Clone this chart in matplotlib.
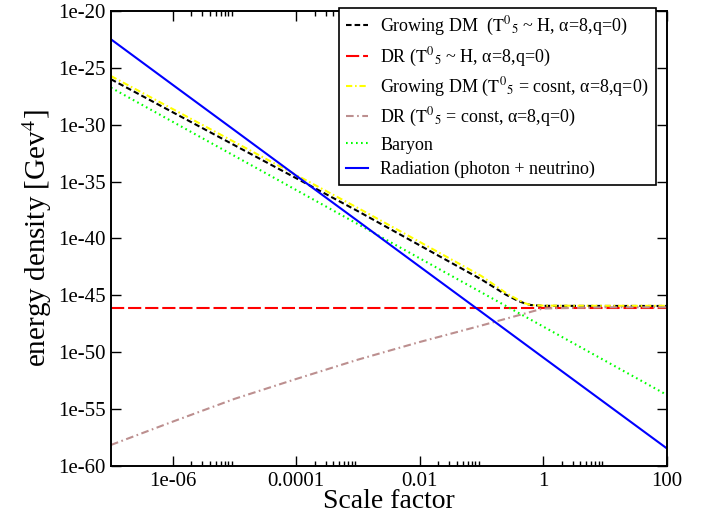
#!/usr/bin/env python
# -*- coding: utf-8 -*-
import numpy as np
import matplotlib
matplotlib.use('Agg')
import matplotlib.pyplot as plt
from matplotlib.ticker import FixedLocator, FixedFormatter, NullFormatter

## log10 of the scale factor where the curves were read
a_exp = [-7, -6, -5, -4, -3, -2, -1, -0.6, -0.4, -0.3, -0.2, 0, 1, 2]

## log10 of the energy density [GeV^4]
dm_H = [-26.0, -28.9, -31.8, -34.7, -37.6, -40.6, -43.6, -44.95, -45.5, -45.7, -45.85, -45.92, -45.93, -45.93]
dr_H = [-46.1, -46.1, -46.1, -46.1, -46.1, -46.1, -46.1, -46.1, -46.1, -46.1, -46.1, -46.1, -46.1, -46.1]
dm_const = [-25.72, -28.62, -31.52, -34.42, -37.32, -40.3, -43.3, -44.8, -45.4, -45.68, -45.85, -45.9, -45.92, -45.92]
dr_const = [-58.15, -56.1, -54.1, -52.35, -50.65, -49.1, -47.65, -47.05, -46.75, -46.6, -46.45, -46.15, -46.05, -46.05]
baryon = [-26.74, -29.74, -32.74, -35.74, -38.74, -41.74, -44.74, -45.94, -46.54, -46.84, -47.14, -47.74, -50.74, -53.74]
radiation = [-22.49, -26.49, -30.48, -34.48, -38.47, -42.47, -46.46, -48.06, -48.86, -49.26, -49.66, -50.46, -54.45, -58.44]

labels = ['Growing DM  ($\\mathrm{T}^{0}{}_{5}$ ~ H, \u03b1=8,q=0)',
          'DR ($\\mathrm{T}^{0}{}_{5}$ ~ H, \u03b1=8,q=0)',
          'Growing DM ($\\mathrm{T}^{0}{}_{5}$ = cosnt, \u03b1=8,q=0)',
          'DR ($\\mathrm{T}^{0}{}_{5}$ = const, \u03b1=8,q=0)',
          'Baryon',
          'Radiation (photon + neutrino)']

x_ticks = [1e-6, 1e-4, 1e-2, 1, 100]
x_ticklabels = ['1e-06', '0.0001', '0.01', '1', '100']
y_ticks = [1e-60, 1e-55, 1e-50, 1e-45, 1e-40, 1e-35, 1e-30, 1e-25, 1e-20]
y_ticklabels = ['1e-60', '1e-55', '1e-50', '1e-45', '1e-40', '1e-35', '1e-30', '1e-25', '1e-20']


def main():
    plt.rcParams['font.family'] = ['Liberation Serif', 'DejaVu Serif']
    plt.rcParams['mathtext.fontset'] = 'stix'
    plt.rcParams['lines.scale_dashes'] = False

    a = 10.0 ** np.array(a_exp)
    series = [dm_H, dr_H, dm_const, dr_const, baryon, radiation]
    colors = ['black', '#ff0000', '#ffff00', '#bc8f8f', '#00ff00', '#0000ff']
    dashes = [(4, 2.2), (9.5, 2.8), (4.5, 2, 1.2, 2), (5.5, 2.5, 1.2, 2.5), (1.2, 2.4), ()]

    fig = plt.figure(figsize=(7.01, 5.16), dpi=100)
    ax = fig.add_axes([0.1583, 0.0969, 0.7927, 0.8818])

    for s, c, d, lab in zip(series, colors, dashes, labels):
        if d:
            ax.plot(a, 10.0 ** np.array(s), color=c, lw=1.5, dashes=d, label=lab)
        else:
            ax.plot(a, 10.0 ** np.array(s), color=c, lw=1.5, label=lab)

    ax.set_xscale('log')
    ax.set_yscale('log')
    ax.set_xlim(1e-7, 100)
    ax.set_ylim(1e-60, 1e-20)

    ax.xaxis.set_major_locator(FixedLocator(x_ticks))
    ax.xaxis.set_major_formatter(FixedFormatter(x_ticklabels))
    minor = [m * 10.0 ** e for e in (-6, -4, -2, 0) for m in range(2, 10)]
    ax.xaxis.set_minor_locator(FixedLocator(minor))
    ax.xaxis.set_minor_formatter(NullFormatter())
    ax.yaxis.set_major_locator(FixedLocator(y_ticks))
    ax.yaxis.set_major_formatter(FixedFormatter(y_ticklabels))
    ax.yaxis.set_minor_locator(FixedLocator([]))

    ax.tick_params(which='both', direction='in', top=True, right=True, width=1.0)
    ax.tick_params(which='major', length=7, labelsize=15, pad=4)
    ax.tick_params(which='minor', length=3.5)
    for sp in ax.spines.values():
        sp.set_linewidth(1.4)

    ax.set_xlabel('Scale factor', fontsize=20, labelpad=-1)
    ax.set_ylabel('energy density [Gev$^4$]', fontsize=21, labelpad=3)

    leg = ax.legend(loc='upper right', bbox_to_anchor=(656 / 701, 1 - 8 / 516),
                    bbox_transform=fig.transFigure, fontsize=13, frameon=True,
                    fancybox=False, edgecolor='black', framealpha=1,
                    borderaxespad=0, handlelength=1.2, handletextpad=0.7,
                    labelspacing=0.4, borderpad=0.4)
    leg.get_frame().set_linewidth(1.2)

    fig.savefig('out.png', dpi=100)
    return 0


if __name__ == '__main__':
    import sys
    sys.exit(main())
